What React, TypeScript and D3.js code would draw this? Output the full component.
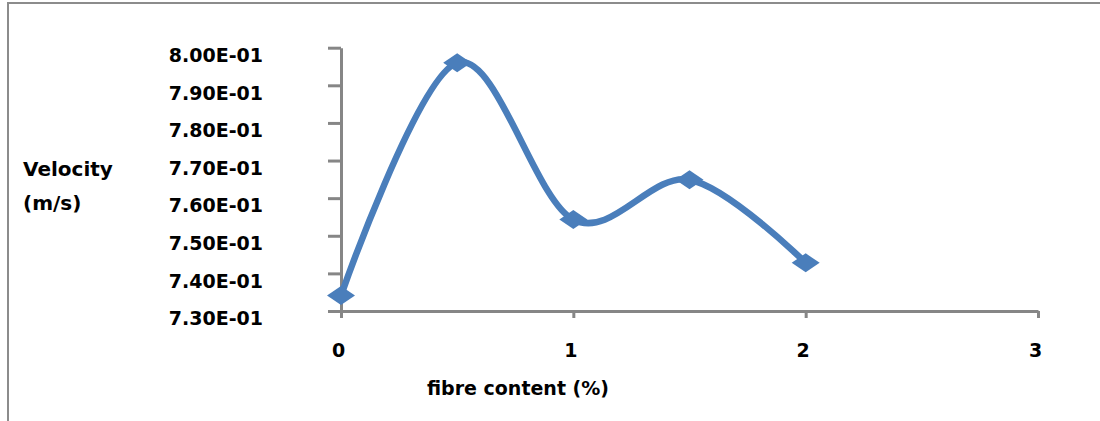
import React, { useEffect, useRef } from 'react';
import * as d3 from 'd3';

const WIDTH = 1100;
const HEIGHT = 421;
const LINE_COLOR = '#4a7ebb';
const AXIS_COLOR = '#868686';
const FONT = '"DejaVu Sans", sans-serif';

// fibre content (%) vs velocity (m/s)
const fibreContent = [0, 0.5, 1, 1.5, 2];
const velocity = [0.7341, 0.796, 0.7543, 0.7649, 0.7428];

const xTicks = [0, 1, 2, 3];
const yTicks = [0.73, 0.74, 0.75, 0.76, 0.77, 0.78, 0.79, 0.8];

// Excel style scientific label: 8.00E-01
const sci = (v: number) => {
    const [m, e] = v.toExponential(2).split('e');
    const n = parseInt(e, 10);
    return `${m}E${n < 0 ? '-' : '+'}${String(Math.abs(n)).padStart(2, '0')}`;
};

const xScale = d3.scaleLinear().domain([0, 3]).range([341, 1038]);
const yScale = d3.scaleLinear().domain([0.73, 0.8]).range([311, 47.7]);

export default function App() {
    const ref = useRef<SVGSVGElement>(null);

    useEffect(() => {
        const svg = d3.select(ref.current);
        svg.selectAll('*').remove();

        // outer frame (only left and top visible)
        svg.append('path')
            .attr('d', `M8,${HEIGHT} L8,3 L${WIDTH},3`)
            .attr('fill', 'none')
            .attr('stroke', '#8c8c8c')
            .attr('stroke-width', 2);

        const yAxis = d3.axisLeft(yScale)
            .tickValues(yTicks)
            .tickSize(13)
            .tickSizeOuter(0)
            .tickFormat((d) => sci(+d));
        const yg = svg.append('g')
            .attr('transform', `translate(${xScale(0)},0)`)
            .call(yAxis);

        const xAxis = d3.axisBottom(xScale)
            .tickValues(xTicks)
            .tickSize(7)
            .tickSizeOuter(0)
            .tickFormat(d3.format('d'));
        const xg = svg.append('g')
            .attr('transform', `translate(0,${yScale(0.73)})`)
            .call(xAxis);

        [yg, xg].forEach((g) => {
            g.selectAll('path, line')
                .attr('stroke', AXIS_COLOR)
                .attr('stroke-width', 3);
            g.selectAll('text')
                .attr('fill', '#000')
                .style('font-family', FONT)
                .style('font-weight', 'bold')
                .style('font-size', '19px');
        });
        yg.selectAll('text').attr('x', -78).attr('dy', '0.72em');
        xg.selectAll('text').attr('y', 33).attr('dx', '-3');

        const line = d3.line<number>()
            .x((_, i) => xScale(fibreContent[i]))
            .y((d) => yScale(d))
            .curve(d3.curveCatmullRom.alpha(0));

        svg.append('path')
            .datum(velocity)
            .attr('d', line)
            .attr('fill', 'none')
            .attr('stroke', LINE_COLOR)
            .attr('stroke-width', 6.5)
            .attr('stroke-linejoin', 'round');

        svg.selectAll('.marker')
            .data(velocity)
            .enter().append('path')
            .attr('class', 'marker')
            .attr('d', 'M-14,0 L0,-9.5 L14,0 L0,9.5 Z')
            .attr('transform', (d, i) => `translate(${xScale(fibreContent[i])},${yScale(d)})`)
            .attr('fill', LINE_COLOR);

        const title = svg.append('g')
            .style('font-family', FONT)
            .style('font-weight', 'bold')
            .style('font-size', '20px');
        title.append('text').attr('x', 23).attr('y', 176).text('Velocity');
        title.append('text').attr('x', 23).attr('y', 210).text('(m/s)');
        title.append('text')
            .attr('x', 518).attr('y', 395)
            .attr('text-anchor', 'middle')
            .style('font-size', '19px')
            .text('fibre content (%)');
    }, []);

    return (
        <svg
            ref={ref}
            width={WIDTH}
            height={HEIGHT}
            style={{ position: 'absolute', left: 0, top: 0, background: '#fff' }}
        />
    );
}
